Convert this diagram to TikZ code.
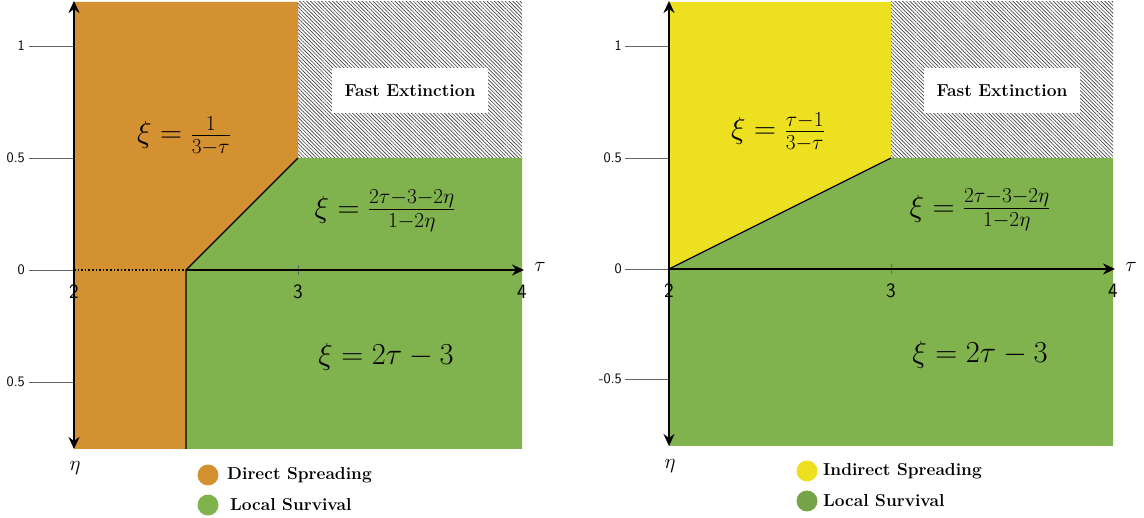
\RequirePackage{fix-cm}
\documentclass[tikz,border=0pt]{standalone}
\usepackage{amsmath}
\usetikzlibrary{arrows.meta,patterns.meta}
\definecolor{orng}{RGB}{212,145,50}
\definecolor{grn}{RGB}{128,178,78}
\definecolor{ylw}{RGB}{236,224,33}
\tikzset{
  axis/.style={line width=1.8pt,black},
  bound/.style={line width=1.3pt,black},
  tickline/.style={line width=0.6pt,black!60},
  ticklab/.style={font=\fontsize{14.5}{17}\selectfont\sffamily,anchor=east,inner sep=0pt},
  taulab/.style={font=\fontsize{20.5}{24}\selectfont\sffamily,inner sep=0pt},
  formula/.style={font=\fontsize{30.5}{36}\selectfont,inner sep=0pt},
  hatch/.style={pattern={Lines[angle=-45,distance=2.6pt,line width=0.65pt]},pattern color=black!75},
  fastbox/.style={fill=white,minimum width=156pt,minimum height=45pt,font=\fontsize{17.3}{21}\selectfont\bfseries,inner sep=0pt},
  legdot/.style={circle,minimum size=21pt,inner sep=0pt},
  legtext/.style={font=\fontsize{17.3}{21}\selectfont\bfseries,anchor=west,inner sep=0pt},
  varlab/.style={font=\fontsize{21}{25}\selectfont,inner sep=0pt},
  tip/.style={-{Stealth[length=12pt,width=11pt,inset=4pt]}},
  tips/.style={{Stealth[length=12pt,width=11pt,inset=4pt]}-{Stealth[length=12pt,width=11pt,inset=4pt]}}
}
\begin{document}
\begin{tikzpicture}[x=1pt,y=-1pt]
\useasboundingbox (0,0) rectangle (1144,518);
% ================= LEFT PLOT =================
\fill[orng] (74,2) -- (298,2) -- (298,158) -- (186,270) -- (186,449) -- (74,449) -- cycle;
\fill[grn] (298,158) -- (522,158) -- (522,449) -- (186,449) -- (186,270) -- cycle;
\fill[hatch] (298,2) rectangle (522,158);
\node[fastbox] (fe1) at (410,91) {Fast Extinction};
\draw[bound] (298,158) -- (186,270) -- (186,449);
% ticks
\foreach \yy/\lab in {46/1,158/0.5,270/0,382/0.5}{
  \draw[tickline] (29,\yy) -- (74,\yy);
  \node[ticklab] at (25,\yy) {\lab};
}
\draw[tickline] (298,265) -- (298,275);
\draw[line width=1.6pt,dotted] (74,270) -- (186,270);
\draw[axis,tip] (186,270) -- (524,270);
\draw[axis,tips] (74,449) -- (74,1);
\node[taulab] at (74,292) {2};
\node[taulab] at (298,292) {3};
\node[taulab] at (522,292) {4};
\node[varlab] at (540,267) {$\tau$};
\node[varlab] at (75,468) {$\eta$};
\node[formula] at (184,136) {$\xi = \frac{1}{3-\tau}$};
\node[formula] at (385,211) {$\xi = \frac{2\tau-3-2\eta}{1-2\eta}$};
\node[formula] at (386,357) {$\xi = 2\tau-3$};
% legend
\node[legdot,fill=orng] (d1) at (208,475) {};
\node[legtext] (t1) at (227,475) {Direct Spreading};
\node[legdot,fill=grn] (d2) at (208,505) {};
\node[legtext] (t2) at (230,505) {Local Survival};
% ================= RIGHT PLOT =================
\fill[ylw] (669,2) -- (891,2) -- (891,158) -- (669,269) -- cycle;
\fill[grn] (669,269) -- (891,158) -- (1113,158) -- (1113,446) -- (669,446) -- cycle;
\fill[hatch] (891,2) rectangle (1113,158);
\node[fastbox] (fe2) at (1002,91) {Fast Extinction};
\draw[bound] (669,269) -- (891,158);
\foreach \yy/\lab in {46/1,158/0.5,269/0,379/-0.5}{
  \draw[tickline] (625,\yy) -- (669,\yy);
  \node[ticklab] at (622,\yy) {\lab};
}
\draw[tickline] (891,264) -- (891,274);
\draw[axis,tip] (669,269) -- (1115,269);
\draw[axis,tips] (669,446) -- (669,1);
\node[taulab] at (669,291) {2};
\node[taulab] at (891,291) {3};
\node[taulab] at (1113,291) {4};
\node[varlab] at (1131,267) {$\tau$};
\node[varlab] at (670,466) {$\eta$};
\node[formula] at (778,132) {$\xi = \frac{\tau-1}{3-\tau}$};
\node[formula] at (980,210) {$\xi = \frac{2\tau-3-2\eta}{1-2\eta}$};
\node[formula] at (980,355) {$\xi = 2\tau-3$};
\node[legdot,fill=ylw] (d3) at (807,471) {};
\node[legtext] (t3) at (823,471) {Indirect Spreading};
\node[legdot,fill=grn!92!black] (d4) at (807,501) {};
\node[legtext] (t4) at (823,501) {Local Survival};
\end{tikzpicture}
\end{document}
